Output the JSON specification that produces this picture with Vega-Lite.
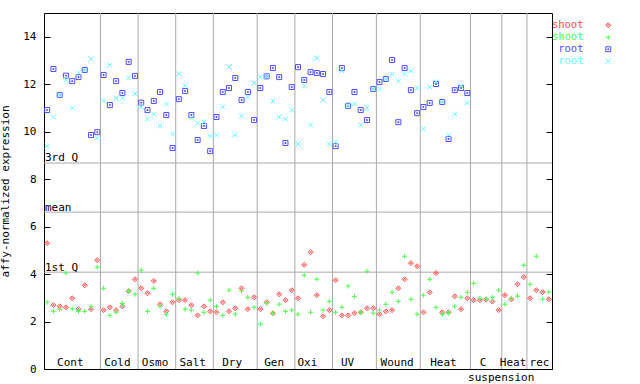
{
  "$schema": "https://vega.github.io/schema/vega-lite/v6.json",
  "width": 508,
  "height": 356,
  "autosize": "none",
  "padding": {"left": 44, "top": 13, "right": 88, "bottom": 15},
  "background": "white",
  "config": {
    "view": {"stroke": "black", "strokeWidth": 1},
    "font": "DejaVu Sans Mono",
    "text": {"font": "DejaVu Sans Mono", "fontSize": 11, "color": "black"}
  },
  "datasets": {
    "samples": [
      {"i":0,"shoot1":5.30,"shoot2":2.81,"root1":10.91,"root2":9.39},
      {"i":1,"shoot1":2.69,"shoot2":2.43,"root1":12.64,"root2":10.62},
      {"i":2,"shoot1":2.64,"shoot2":2.52,"root1":11.54,"root2":11.54},
      {"i":3,"shoot1":2.60,"shoot2":4.04,"root1":12.36,"root2":12.18},
      {"i":4,"shoot1":2.98,"shoot2":2.54,"root1":12.13,"root2":11.00},
      {"i":5,"shoot1":2.52,"shoot2":2.43,"root1":12.30,"root2":12.48},
      {"i":6,"shoot1":3.53,"shoot2":2.43,"root1":12.60,"root2":12.60},
      {"i":7,"shoot1":2.52,"shoot2":2.64,"root1":9.86,"root2":13.07},
      {"i":8,"shoot1":4.58,"shoot2":4.29,"root1":9.98,"root2":9.73},
      {"i":9,"shoot1":2.48,"shoot2":3.40,"root1":12.39,"root2":11.30},
      {"i":10,"shoot1":2.60,"shoot2":2.26,"root1":11.12,"root2":12.81},
      {"i":11,"shoot1":2.48,"shoot2":2.39,"root1":12.13,"root2":11.42},
      {"i":12,"shoot1":2.64,"shoot2":2.76,"root1":11.63,"root2":11.42},
      {"i":13,"shoot1":3.28,"shoot2":3.28,"root1":12.94,"root2":12.26},
      {"i":14,"shoot1":3.78,"shoot2":3.15,"root1":12.35,"root2":11.59},
      {"i":15,"shoot1":3.40,"shoot2":4.16,"root1":11.22,"root2":11.04},
      {"i":16,"shoot1":3.19,"shoot2":2.43,"root1":10.91,"root2":10.53},
      {"i":17,"shoot1":3.71,"shoot2":3.40,"root1":11.29,"root2":10.74},
      {"i":18,"shoot1":2.73,"shoot2":2.64,"root1":11.67,"root2":10.24},
      {"i":19,"shoot1":2.43,"shoot2":2.30,"root1":10.70,"root2":11.16},
      {"i":20,"shoot1":2.81,"shoot2":3.15,"root1":9.31,"root2":9.90},
      {"i":21,"shoot1":2.90,"shoot2":2.98,"root1":11.37,"root2":12.44},
      {"i":22,"shoot1":2.90,"shoot2":2.52,"root1":11.71,"root2":11.94},
      {"i":23,"shoot1":2.69,"shoot2":2.48,"root1":10.70,"root2":10.57},
      {"i":24,"shoot1":2.26,"shoot2":4.04,"root1":9.65,"root2":10.36},
      {"i":25,"shoot1":2.64,"shoot2":2.39,"root1":10.24,"root2":10.41},
      {"i":26,"shoot1":2.43,"shoot2":2.90,"root1":9.18,"root2":9.81},
      {"i":27,"shoot1":2.39,"shoot2":2.64,"root1":10.62,"root2":9.86},
      {"i":28,"shoot1":2.81,"shoot2":2.26,"root1":11.67,"root2":11.04},
      {"i":29,"shoot1":2.43,"shoot2":3.32,"root1":11.84,"root2":12.72},
      {"i":30,"shoot1":2.56,"shoot2":2.31,"root1":12.26,"root2":9.86},
      {"i":31,"shoot1":3.40,"shoot2":3.28,"root1":11.33,"root2":10.66},
      {"i":32,"shoot1":2.52,"shoot2":3.02,"root1":11.67,"root2":11.46},
      {"i":33,"shoot1":3.02,"shoot2":2.60,"root1":10.49,"root2":12.05},
      {"i":34,"shoot1":2.52,"shoot2":1.89,"root1":11.84,"root2":12.30},
      {"i":35,"shoot1":2.81,"shoot2":2.77,"root1":12.33,"root2":12.33},
      {"i":36,"shoot1":2.35,"shoot2":2.35,"root1":12.68,"root2":11.29},
      {"i":37,"shoot1":3.15,"shoot2":2.73,"root1":12.30,"root2":10.62},
      {"i":38,"shoot1":2.90,"shoot2":2.43,"root1":9.52,"root2":10.53},
      {"i":39,"shoot1":3.32,"shoot2":2.48,"root1":11.88,"root2":10.91},
      {"i":40,"shoot1":2.98,"shoot2":2.31,"root1":12.72,"root2":9.48},
      {"i":41,"shoot1":4.39,"shoot2":3.95,"root1":12.18,"root2":11.92},
      {"i":42,"shoot1":4.92,"shoot2":2.39,"root1":12.51,"root2":10.28},
      {"i":43,"shoot1":3.11,"shoot2":3.78,"root1":12.47,"root2":13.10},
      {"i":44,"shoot1":2.22,"shoot2":2.48,"root1":12.43,"root2":11.33},
      {"i":45,"shoot1":2.48,"shoot2":2.85,"root1":11.67,"root2":9.48},
      {"i":46,"shoot1":3.74,"shoot2":2.39,"root1":9.39,"root2":9.56},
      {"i":47,"shoot1":2.26,"shoot2":2.60,"root1":12.68,"root2":12.56},
      {"i":48,"shoot1":2.26,"shoot2":3.49,"root1":11.09,"root2":11.10},
      {"i":49,"shoot1":2.35,"shoot2":3.06,"root1":11.67,"root2":11.16},
      {"i":50,"shoot1":2.39,"shoot2":2.39,"root1":10.91,"root2":10.28},
      {"i":51,"shoot1":2.56,"shoot2":4.12,"root1":10.49,"root2":11.00},
      {"i":52,"shoot1":2.56,"shoot2":2.35,"root1":11.80,"root2":11.80},
      {"i":53,"shoot1":2.31,"shoot2":2.48,"root1":12.09,"root2":11.80},
      {"i":54,"shoot1":2.43,"shoot2":2.73,"root1":12.22,"root2":12.22},
      {"i":55,"shoot1":2.48,"shoot2":3.23,"root1":13.02,"root2":12.43},
      {"i":56,"shoot1":3.40,"shoot2":2.85,"root1":10.40,"root2":12.13},
      {"i":57,"shoot1":3.78,"shoot2":4.75,"root1":12.68,"root2":12.43},
      {"i":58,"shoot1":4.46,"shoot2":2.94,"root1":11.75,"root2":12.56},
      {"i":59,"shoot1":4.33,"shoot2":2.31,"root1":10.78,"root2":11.84},
      {"i":60,"shoot1":2.39,"shoot2":3.11,"root1":11.04,"root2":10.11},
      {"i":61,"shoot1":3.23,"shoot2":3.78,"root1":11.21,"root2":11.88},
      {"i":62,"shoot1":4.04,"shoot2":2.60,"root1":12.01,"root2":12.09},
      {"i":63,"shoot1":2.39,"shoot2":2.31,"root1":11.25,"root2":11.25},
      {"i":64,"shoot1":2.39,"shoot2":2.35,"root1":9.69,"root2":9.86},
      {"i":65,"shoot1":3.06,"shoot2":2.64,"root1":11.75,"root2":10.74},
      {"i":66,"shoot1":2.52,"shoot2":3.02,"root1":11.84,"root2":11.92},
      {"i":67,"shoot1":2.98,"shoot2":3.23,"root1":11.63,"root2":11.21},
      {"i":68,"shoot1":2.90,"shoot2":3.61,"root1":null,"root2":null},
      {"i":69,"shoot1":2.90,"shoot2":2.98,"root1":null,"root2":null},
      {"i":70,"shoot1":2.92,"shoot2":2.96,"root1":null,"root2":null},
      {"i":71,"shoot1":2.84,"shoot2":3.02,"root1":null,"root2":null},
      {"i":72,"shoot1":2.48,"shoot2":3.32,"root1":null,"root2":null},
      {"i":73,"shoot1":3.11,"shoot2":2.73,"root1":null,"root2":null},
      {"i":74,"shoot1":2.94,"shoot2":2.98,"root1":null,"root2":null},
      {"i":75,"shoot1":3.57,"shoot2":3.07,"root1":null,"root2":null},
      {"i":76,"shoot1":3.87,"shoot2":4.37,"root1":null,"root2":null},
      {"i":77,"shoot1":2.98,"shoot2":3.57,"root1":null,"root2":null},
      {"i":78,"shoot1":3.32,"shoot2":4.75,"root1":null,"root2":null},
      {"i":79,"shoot1":3.24,"shoot2":2.94,"root1":null,"root2":null},
      {"i":80,"shoot1":2.94,"shoot2":3.24,"root1":null,"root2":null}
    ],
    "bounds": [{"b":8.5},{"b":14.5},{"b":20.5},{"b":26.5},{"b":33.5},{"b":39.5},{"b":45.5},{"b":52.5},{"b":59.5},{"b":67.5},{"b":72.5},{"b":76.5}],
    "groups": [
      {"name":"Cont","pos":3.7},{"name":"Cold","pos":11.2},{"name":"Osmo","pos":17.2},
      {"name":"Salt","pos":23.2},{"name":"Dry","pos":29.5},{"name":"Gen","pos":36.2},
      {"name":"Oxi","pos":41.5},{"name":"UV","pos":47.9},{"name":"Wound","pos":55.8},
      {"name":"Heat","pos":63.2},{"name":"C","pos":69.5},{"name":"Heat","pos":74.3},
      {"name":"rec","pos":78.5}
    ],
    "sublabels": [{"name":"suspension","pos":72.4}],
    "stats": [{"label":"3rd Q","v":8.68},{"label":"mean","v":6.61},{"label":"1st Q","v":4.08}]
  },
  "layer": [
    {
      "data": {"name": "bounds"},
      "mark": {"type": "rule", "color": "#a9a9a9", "strokeWidth": 1},
      "encoding": {
        "x": {"field": "b", "type": "quantitative", "axis": null, "scale": {"domain": [-0.5, 80.5], "nice": false, "zero": false}}
      }
    },
    {
      "data": {"name": "stats"},
      "mark": {"type": "rule", "color": "#a9a9a9", "strokeWidth": 1},
      "encoding": {
        "y": {"field": "v", "type": "quantitative", "scale": {"domain": [0, 15], "nice": false, "zero": false},
          "axis": {"orient": "right", "values": [0,2,4,6,8,10,12,14], "labels": false, "title": null, "domain": false, "grid": false, "tickSize": -6, "tickColor": "black", "tickWidth": 1}}
      }
    },
    {
      "data": {"name": "stats"},
      "mark": {"type": "text", "align": "left", "baseline": "alphabetic", "dx": 1, "dy": -1.5},
      "encoding": {
        "x": {"datum": -0.5, "type": "quantitative", "axis": null, "scale": {"domain": [-0.5, 80.5], "nice": false, "zero": false}},
        "y": {"field": "v", "type": "quantitative", "axis": null},
        "text": {"field": "label"}
      }
    },
    {
      "data": {"name": "groups"},
      "mark": {"type": "text", "align": "center", "baseline": "alphabetic", "dy": -3},
      "encoding": {
        "x": {"field": "pos", "type": "quantitative", "axis": null, "scale": {"domain": [-0.5, 80.5], "nice": false, "zero": false}},
        "y": {"datum": 0, "type": "quantitative", "axis": null},
        "text": {"field": "name"}
      }
    },
    {
      "data": {"name": "sublabels"},
      "mark": {"type": "text", "align": "center", "baseline": "top", "dy": 3},
      "encoding": {
        "x": {"field": "pos", "type": "quantitative", "axis": null, "scale": {"domain": [-0.5, 80.5], "nice": false, "zero": false}},
        "y": {"datum": 0, "type": "quantitative", "axis": null},
        "text": {"field": "name"}
      }
    },
    {
      "data": {"name": "samples"},
      "transform": [
        {"fold": ["shoot1", "shoot2", "root1", "root2"], "as": ["series", "value"]},
        {"filter": "datum.value != null"}
      ],
      "mark": {"type": "point", "filled": false, "size": 25, "strokeWidth": 1, "opacity": 1},
      "encoding": {
        "x": {"field": "i", "type": "quantitative", "axis": null, "scale": {"domain": [-0.5, 80.5], "nice": false, "zero": false}},
        "y": {"field": "value", "type": "quantitative",
          "axis": {"orient": "left", "title": "affy-normalized expression", "values": [0,2,4,6,8,10,12,14], "domain": false, "grid": false,
            "tickSize": -6, "tickColor": "black", "tickWidth": 1, "labelPadding": 14,
            "labelFont": "DejaVu Sans Mono", "labelFontSize": 11, "labelColor": "black",
            "titleFont": "DejaVu Sans Mono", "titleFontSize": 11, "titleFontWeight": "normal", "titleColor": "black", "titlePadding": 12}},
        "color": {"field": "series", "type": "nominal",
          "scale": {"domain": ["shoot1", "shoot2", "root1", "root2"], "range": ["#ff4d4d", "#4dff4d", "#4d4dff", "#66ffff"]},
          "legend": {"orient": "none", "legendX": 542, "legendY": 7, "title": null,
            "labelExpr": "substring(datum.label, 0, length(datum.label) - 1)",
            "labelAlign": "right", "labelOffset": -30, "symbolOffset": 17,
            "labelFont": "DejaVu Sans Mono", "labelFontSize": 10.5, "rowPadding": 1,
            "labelColor": {"expr": "scale('color', datum.value)"},
            "symbolSize": 25, "symbolStrokeWidth": 1}},
        "shape": {"field": "series", "type": "nominal",
          "scale": {"domain": ["shoot1", "shoot2", "root1", "root2"],
            "range": ["M-1,0L0,-1L1,0L0,1Z M-0.35,0L0,-0.35L0.35,0L0,0.35Z", "M-1,0H1M0,-1V1", "M-1,-1H1V1H-1Z M-0.2,-0.2H0.2V0.2H-0.2Z", "M-1,-1L1,1M-1,1L1,-1"]}}
      }
    }
  ],
  "resolve": {"axis": {"y": "independent"}}
}
